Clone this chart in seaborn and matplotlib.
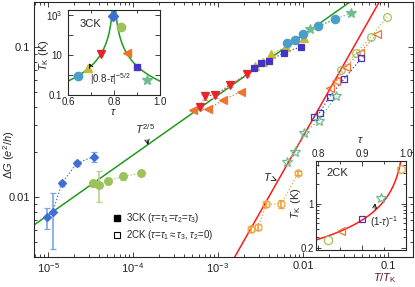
import matplotlib
matplotlib.use("Agg")
import matplotlib.pyplot as plt
import numpy as np
import seaborn as sb
from matplotlib.lines import Line2D
from matplotlib import ticker

# ---- main panel, 3CK (filled symbols): T/T_K and dG (e^2/h)
T_dia = [9.7e-6, 1.13e-5, 1.45e-5, 2.18e-5, 3.5e-5]
G_dia = [0.0074, 0.0079, 0.0123, 0.0168, 0.0186]
E_dia = [[0.0013, 0.0034, 0.0005, 0.0007, 0.0014], [0.0011, 0.0028, 0.0005, 0.0007, 0.0014]]

T_lgc = [3.36e-5, 3.98e-5, 5.03e-5, 7.57e-5, 1.23e-4]
G_lgc = [0.0123, 0.0120, 0.0128, 0.0137, 0.0144]
E_lgc = [[0.0006, 0.0027, 0.0006, 0.0007, 0.0007], [0.0006, 0.0028, 0.0006, 0.0007, 0.0007]]

T_red = [6.1e-4, 7.1e-4, 9.3e-4, 1.37e-3, 2.21e-3]
G_red = [0.040, 0.0471, 0.0479, 0.0558, 0.066]
E_red = [0.002, 0.003, 0.002, 0.002, 0.002]

T_org = [5.1e-4, 7.6e-4, 1.15e-3, 1.85e-3]
G_org = [0.038, 0.0385, 0.0443, 0.0504]

T_olv = [2.75e-3, 3.38e-3, 4.24e-3, 6.37e-3, 1.03e-2]
G_olv = [0.075, 0.0798, 0.0898, 0.1005, 0.114]

T_sq = [2.65e-3, 3.24e-3, 3.95e-3, 5.97e-3, 9.55e-3]
G_sq = [0.0727, 0.0786, 0.0807, 0.0916, 0.1005]

T_teal = [6.53e-3, 7.98e-3, 1.0e-2, 1.5e-2, 2.36e-2]
G_teal = [0.106, 0.112, 0.122, 0.137, 0.153]

T_star = [1.2e-2, 3.7e-2]
G_star = [0.131, 0.169]

# ---- main panel, 2CK (open symbols)
T2_circ = [0.0278, 0.0423, 0.0625, 0.0982]
G2_circ = [0.0703, 0.0916, 0.116, 0.159]

T2_org = [0.0206, 0.0246, 0.0323, 0.0465, 0.0748]
G2_org = [0.0531, 0.0596, 0.074, 0.0916, 0.122]

T2_sq = [0.0135, 0.0157, 0.0206, 0.0303, 0.0485]
G2_sq = [0.034, 0.0365, 0.0467, 0.061, 0.0841]

T2_star = [0.00653, 0.00798, 0.0103, 0.0153, 0.0247]
G2_star = [0.017, 0.020, 0.0268, 0.0323, 0.0473]

T2_hex = [0.00243, 0.00296, 0.0037, 0.00556, 0.00873]
G2_hex = [0.0061, 0.00628, 0.00894, 0.00898, 0.0144]
E2_hex = [0.0003, 0.0003, 0.0004, 0.0006, 0.0004]

# fits in main panel
amp_25 = 0.757   # dG = amp_25 * T^(2/5)
amp_1 = 2.53     # dG = amp_1 * T

# ---- inset 3CK: tau, T_K (K)
tau3 = [0.645, 0.688, 0.743, 0.794, 0.829, 0.855, 0.899, 0.942]
TK3 = [0.9, 2.1, 10.7, 900, 256, 13, 2.4, 0.57]
amp3 = 0.0085    # T_K = amp3 |0.8-tau|^(-5/2)

# ---- inset 2CK
tau2 = [0.822, 0.853, 0.899, 0.944, 0.988]
TK2 = [0.27, 0.37, 0.57, 1.2, 3.5]
amp2 = 0.055     # T_K = amp2 (1-tau)^(-1)

c_dia = "#3f6fd4"
c_lgc = "#9cc35b"
c_red = "#e3262b"
c_org = "#f0742f"
c_olv = "#c9b935"
c_sq = "#4433c4"
c_teal = "#4b9fc6"
c_star = "#6fbd8f"
c_hex = "#f2a238"
c_fit25 = "#1f9a1f"
c_fit1 = "#ff1a1a"

sb.set_style("ticks")
plt.rcParams['font.family'] = ['Liberation Sans', 'DejaVu Sans']
plt.rcParams['mathtext.fontset'] = 'custom'
plt.rcParams['mathtext.rm'] = 'Liberation Sans'
plt.rcParams['mathtext.it'] = 'Liberation Sans:italic'
plt.rcParams['axes.linewidth'] = 0.8


# dotted connecting line + symbols (optionally with error bars)
def plot_series(ax, x, y, color, marker, filled=True, err=None, ecolor=None, ms=5.5):
    sb.lineplot(x=x, y=y, ax=ax, color=color, linestyle=':', lw=0.9, sort=False, zorder=2)
    ax.errorbar(x, y, yerr=err, fmt=marker, color=color, ms=ms,
                mfc=color if filled else 'none', mec=color, mew=0.9,
                ecolor=ecolor if ecolor else color, elinewidth=1.2, capsize=2.5,
                capthick=1.0, zorder=3)


def style_ticks(ax, size, pad=3):
    ax.tick_params(which='both', direction='in', top=True, right=True,
                   labelsize=size, width=0.6, colors='#222222', pad=pad)
    ax.tick_params(which='major', length=3.5)
    ax.tick_params(which='minor', length=2)


fig = plt.figure(figsize=(4.15, 2.87), dpi=100)
ax = fig.add_axes([34/415, 30/287, 379/415, 255/287])
ax.set_xscale('log')
ax.set_yscale('log')

# power law fits
t_line = np.logspace(-5.3, -0.5, 100)
sb.lineplot(x=t_line, y=amp_25 * t_line**0.4, ax=ax, color=c_fit25, lw=1.1, zorder=1)
sb.lineplot(x=t_line, y=amp_1 * t_line, ax=ax, color=c_fit1, lw=1.1, zorder=1)

plot_series(ax, T_dia, G_dia, c_dia, 'D', err=E_dia, ecolor="#7fa2e4", ms=4.5)
plot_series(ax, T_lgc, G_lgc, c_lgc, 'o', err=E_lgc, ecolor="#b5d48a")
plot_series(ax, T_org, G_org, c_org, '<')
plot_series(ax, T_red, G_red, c_red, 'v', err=E_red, ecolor="#f4a0a0")
plot_series(ax, T_olv, G_olv, c_olv, '^')
plot_series(ax, T_sq, G_sq, c_sq, 's', ms=5)
plot_series(ax, T_teal, G_teal, c_teal, 'o', ms=6)
plot_series(ax, T_star, G_star, c_star, '*', ms=7)

plot_series(ax, T2_circ, G2_circ, c_lgc, 'o', filled=False)
plot_series(ax, T2_org, G2_org, c_org, '<', filled=False)
plot_series(ax, T2_sq, G2_sq, c_sq, 's', filled=False, ms=5)
plot_series(ax, T2_star, G2_star, c_star, '*', filled=False, ms=7)
plot_series(ax, T2_hex, G2_hex, c_hex, 'h', filled=False, err=E2_hex)

ax.set_xlim(6.84e-6, 0.197)
ax.set_ylim(0.00398, 0.1995)
ax.xaxis.set_major_locator(ticker.FixedLocator([1e-5, 1e-4, 1e-3, 1e-2, 1e-1]))
ax.xaxis.set_major_formatter(ticker.FixedFormatter(
    ['10$^{-5}$', '10$^{-4}$', '10$^{-3}$', '0.01', '0.1']))
ax.xaxis.set_minor_locator(ticker.LogLocator(base=10, subs=np.arange(2, 10)))
ax.xaxis.set_minor_formatter(ticker.NullFormatter())
ax.yaxis.set_major_locator(ticker.FixedLocator([0.01, 0.1]))
ax.yaxis.set_major_formatter(ticker.FixedFormatter(['0.01', '0.1']))
ax.yaxis.set_minor_locator(ticker.LogLocator(base=10, subs=np.arange(2, 10)))
ax.yaxis.set_minor_formatter(ticker.NullFormatter())
style_ticks(ax, 8)

ax.set_ylabel(r'$\Delta G$ ($e^2/h$)', fontsize=8)
ax.yaxis.set_label_coords(-0.045, 0.40)
ax.set_xlabel(r'$T/T_\mathrm{K}$', fontsize=8, color='#5c1a1a')
ax.xaxis.set_label_coords(0.926, -0.055)

ax.annotate(r'$T^{2/5}$', xy=(0.301, 0.440), xytext=(0.266, 0.50), xycoords='axes fraction',
            fontsize=8, va='center',
            arrowprops=dict(arrowstyle='->', lw=0.6, color='k', shrinkA=0, shrinkB=0))
ax.annotate(r'$T$', xy=(0.641, 0.30), xytext=(0.603, 0.315), xycoords='axes fraction',
            fontsize=8, va='center',
            arrowprops=dict(arrowstyle='->', lw=0.6, color='k', shrinkA=0, shrinkB=0))

handles = [Line2D([], [], marker='s', ls='', color='k', ms=5),
           Line2D([], [], marker='s', ls='', color='k', mfc='none', ms=5, mew=0.8)]
ax.legend(handles, [r'3CK ($\tau$=$\tau_1$=$\tau_2$=$\tau_3$)',
                    r'2CK ($\tau$=$\tau_1$$\approx$$\tau_3$, $\tau_2$=0)'],
          loc='upper left', bbox_to_anchor=(113/415, 1 - 211/287), bbox_transform=fig.transFigure,
          frameon=False, fontsize=7, handlelength=0.8, handletextpad=0.5,
          labelspacing=0.35, borderpad=0, borderaxespad=0)

# ---- inset 3CK
ax1 = fig.add_axes([68/415, 192/287, 92/415, 85/287])
ax1.set_yscale('log')
tl = np.linspace(0.6, 0.7995, 200)
tr = np.linspace(0.8005, 1.0, 200)
sb.lineplot(x=tl, y=amp3 * np.abs(0.8 - tl)**-2.5, ax=ax1, color=c_fit25, lw=1.1)
sb.lineplot(x=tr, y=amp3 * np.abs(0.8 - tr)**-2.5, ax=ax1, color=c_fit25, lw=1.1)
ins3_style = [(c_teal, 'o', 6), (c_olv, '^', 6), (c_red, 'v', 6), (c_dia, 'D', 5),
              (c_lgc, 'o', 6), (c_org, '<', 6), (c_sq, 's', 5), (c_star, '*', 7)]
for (c, m, s), t, k in zip(ins3_style, tau3, TK3):
    ax1.plot([t], [k], marker=m, color=c, ms=s, ls='', zorder=3)
ax1.set_xlim(0.6, 1.0)
ax1.set_ylim(0.095, 1800)
ax1.xaxis.set_major_locator(ticker.FixedLocator([0.6, 0.8, 1.0]))
ax1.xaxis.set_major_formatter(ticker.FixedFormatter(['0.6', '0.8', '1.0']))
ax1.xaxis.set_minor_locator(ticker.FixedLocator([0.7, 0.9]))
ax1.yaxis.set_major_locator(ticker.FixedLocator([0.1, 1, 10, 100, 1000]))
ax1.yaxis.set_major_formatter(ticker.FixedFormatter(['0.1', '', '10', '', '10$^3$']))
ax1.yaxis.set_minor_locator(ticker.NullLocator())
style_ticks(ax1, 7, pad=1.5)
ax1.tick_params(axis='y', pad=4)
ax1.set_xlabel(r'$\tau$', fontsize=8)
ax1.xaxis.set_label_coords(0.49, -0.14)
ax1.set_ylabel(r'$T_\mathrm{K}$ (K)', fontsize=8)
ax1.yaxis.set_label_coords(-0.19, 0.47)
ax1.text(0.13, 0.835, '3CK', transform=ax1.transAxes, fontsize=8, va='center')
ax1.annotate(r'|0.8-$\tau$|$^{-5/2}$', xy=(0.232, 0.373), xytext=(0.24, 0.19),
             xycoords='axes fraction', fontsize=7, va='center',
             arrowprops=dict(arrowstyle='->', lw=0.6, color='k', shrinkA=1, shrinkB=0,
                             connectionstyle='arc3,rad=-0.3'))

# ---- inset 2CK
ax2 = fig.add_axes([316/415, 37.5/287, 90/415, 88.8/287])
ax2.set_yscale('log')
tt = np.linspace(0.795, 0.995, 300)
sb.lineplot(x=tt, y=amp2 / (1 - tt), ax=ax2, color=c_fit1, lw=1.1)
ins2_style = [(c_lgc, 'o', 6), (c_org, '<', 6), (c_sq, 's', 5), (c_star, '*', 7), (c_hex, 'h', 6)]
for (c, m, s), t, k in zip(ins2_style, tau2, TK2):
    ax2.plot([t], [k], marker=m, color=c, mfc='none', mew=0.9, ms=s, ls='', zorder=3)
ax2.set_xlim(0.795, 1.0)
ax2.set_ylim(0.19, 4.7)
ax2.xaxis.tick_top()
ax2.xaxis.set_label_position('top')
ax2.xaxis.set_major_locator(ticker.FixedLocator([0.8, 0.9, 1.0]))
ax2.xaxis.set_major_formatter(ticker.FixedFormatter(['0.8', '0.9', '1.0']))
ax2.xaxis.set_minor_locator(ticker.FixedLocator([0.85, 0.95]))
ax2.yaxis.set_major_locator(ticker.FixedLocator([0.2, 1]))
ax2.yaxis.set_major_formatter(ticker.FixedFormatter(['0.2', '1']))
ax2.yaxis.set_minor_locator(ticker.FixedLocator([0.3, 0.4, 0.5, 0.6, 0.7, 0.8, 0.9, 2, 3, 4]))
ax2.yaxis.set_minor_formatter(ticker.NullFormatter())
style_ticks(ax2, 7, pad=1.5)
ax2.tick_params(which='both', bottom=True, labelbottom=False, labeltop=True)
ax2.set_xlabel(r'$\tau$', fontsize=8)
ax2.xaxis.set_label_coords(0.49, 1.2)
ax2.set_ylabel(r'$T_\mathrm{K}$ (K)', fontsize=8)
ax2.yaxis.set_label_coords(-0.15, 0.52)
ax2.text(0.12, 0.856, '2CK', transform=ax2.transAxes, fontsize=8, va='center')
ax2.annotate(r'(1-$\tau$)$^{-1}$', xy=(0.656, 0.52), xytext=(0.6, 0.31),
             xycoords='axes fraction', fontsize=7, va='center',
             arrowprops=dict(arrowstyle='->', lw=0.6, color='k', shrinkA=1, shrinkB=0,
                             connectionstyle='arc3,rad=-0.3'))

fig.savefig('out.png', dpi=100)
